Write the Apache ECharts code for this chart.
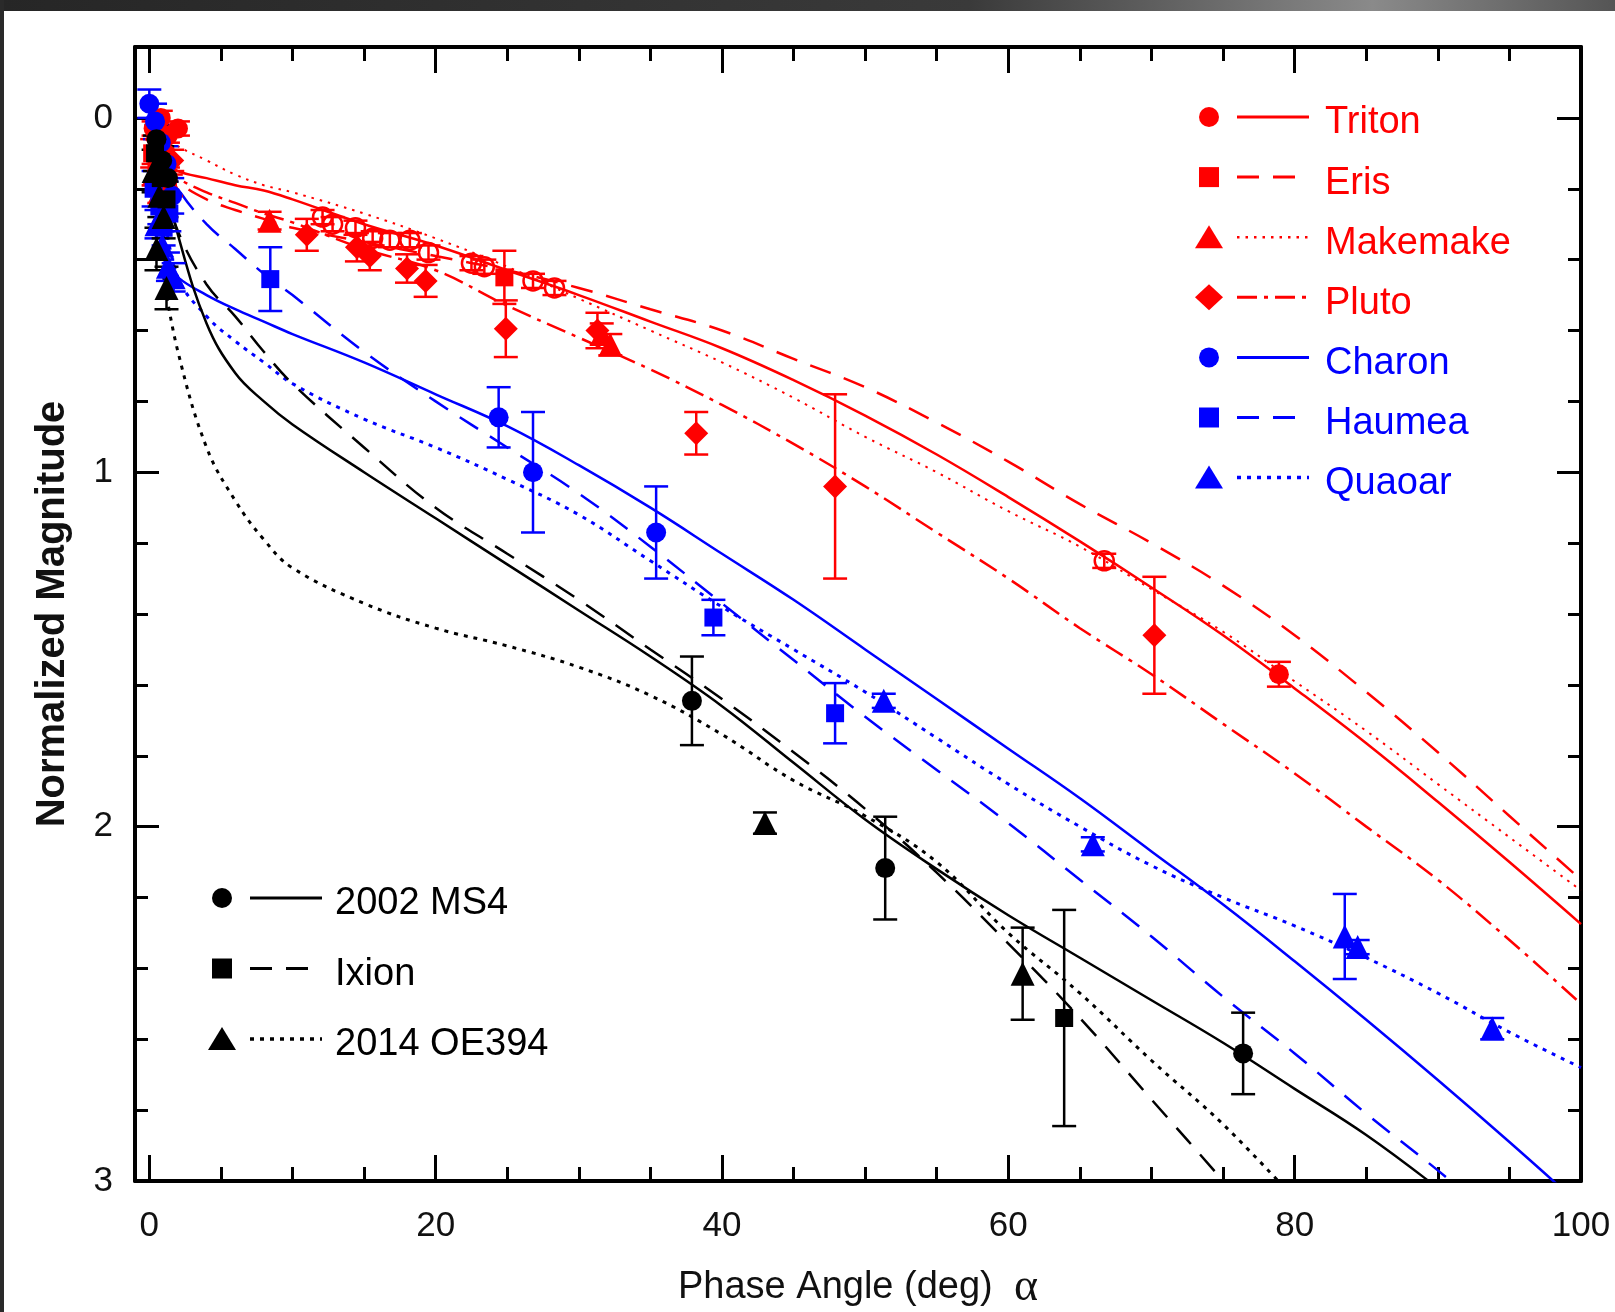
<!DOCTYPE html>
<html><head><meta charset="utf-8">
<script src="https://cdn.jsdelivr.net/npm/echarts@6/dist/echarts.min.js"></script>
<style>html,body{margin:0;padding:0;background:#fff}#c{width:1615px;height:1312px}</style>
</head><body><div id="c"></div>
<script>
// ---- model curve x grid (phase angle, deg) ----
const modelX = [1, 2, 4, 6, 8, 10, 15, 20, 25, 30, 35, 40, 45, 50, 55, 60, 65, 70, 75, 80, 85, 90, 95, 100];
// ---- model curves (normalized magnitude) ----
const tritonModel   = [0.12, 0.15, 0.17, 0.19, 0.205, 0.23, 0.30, 0.36, 0.43, 0.50, 0.575, 0.65, 0.74, 0.84, 0.95, 1.07, 1.195, 1.325, 1.46, 1.61, 1.765, 1.93, 2.10, 2.275];
const erisModel     = [0.13, 0.18, 0.23, 0.26, 0.285, 0.31, 0.35, 0.39, 0.43, 0.48, 0.54, 0.60, 0.68, 0.76, 0.86, 0.97, 1.09, 1.20, 1.32, 1.46, 1.62, 1.79, 1.97, 2.15];
const makemakeModel = [0.05, 0.08, 0.12, 0.16, 0.19, 0.21, 0.27, 0.34, 0.42, 0.51, 0.60, 0.69, 0.79, 0.90, 1.00, 1.11, 1.21, 1.33, 1.45, 1.59, 1.73, 1.88, 2.03, 2.18];
const plutoModel    = [0.13, 0.17, 0.21, 0.24, 0.27, 0.295, 0.37, 0.43, 0.53, 0.62, 0.71, 0.81, 0.92, 1.04, 1.17, 1.30, 1.44, 1.57, 1.71, 1.85, 2.00, 2.15, 2.32, 2.50];
const charonModel   = [0.40, 0.45, 0.50, 0.54, 0.575, 0.61, 0.69, 0.78, 0.87, 0.98, 1.10, 1.23, 1.36, 1.50, 1.64, 1.78, 1.92, 2.07, 2.22, 2.38, 2.545, 2.715, 2.89, 3.07];
const haumeaModel   = [0.12, 0.20, 0.30, 0.37, 0.44, 0.50, 0.66, 0.80, 0.93, 1.06, 1.21, 1.37, 1.53, 1.69, 1.84, 1.99, 2.15, 2.31, 2.48, 2.64, 2.81, 2.97, 3.14, null];
const quaoarModel   = [0.25, 0.45, 0.56, 0.63, 0.69, 0.75, 0.85, 0.93, 1.02, 1.12, 1.25, 1.38, 1.50, 1.62, 1.75, 1.88, 2.00, 2.11, 2.20, 2.28, 2.37, 2.47, 2.58, 2.68];
const ms4Model      = [0.15, 0.33, 0.58, 0.72, 0.80, 0.865, 1.00, 1.13, 1.26, 1.39, 1.52, 1.66, 1.82, 1.98, 2.12, 2.25, 2.37, 2.49, 2.61, 2.74, 2.87, 3.02, 3.18, null];
const ixionModel    = [0.18, 0.32, 0.47, 0.56, 0.66, 0.75, 0.93, 1.10, 1.23, 1.36, 1.50, 1.64, 1.79, 1.95, 2.13, 2.33, 2.54, 2.77, 3.00, 3.24, null, null, null, null];
const oe394Model    = [0.45, 0.66, 0.93, 1.08, 1.19, 1.27, 1.37, 1.44, 1.49, 1.55, 1.63, 1.74, 1.87, 1.97, 2.10, 2.30, 2.47, 2.66, 2.84, 3.05, null, null, null, null];

// ---- observations: [phase angle, magnitude, error] ----
const tritonObs   = [[0.3,0.03,0.02],[0.8,0.0,0.02],[1.3,0.05,0.02],[2.0,0.03,0.02],[78.9,1.57,0.035]];
const tritonOpen  = [[12.1,0.28,0.02],[12.8,0.30,0.02],[14.4,0.31,0.02],[15.6,0.34,0.02],[16.8,0.345,0.02],[18.2,0.345,0.02],[19.5,0.38,0.02],[22.5,0.41,0.02],[23.4,0.42,0.02],[26.8,0.46,0.02],[28.3,0.48,0.02],[66.7,1.25,0.02]];
const erisObs     = [[0.2,0.10,0.04],[0.5,0.14,0.04],[0.9,0.12,0.04],[1.3,0.18,0.04],[24.8,0.45,0.075]];
const makemakeObs = [[0.3,0.16,0.03],[0.7,0.21,0.03],[1.1,0.14,0.03],[1.5,0.19,0.03],[8.4,0.29,0.025],[31.6,0.61,0.03],[32.2,0.64,0.03]];
const plutoObs    = [[0.5,0.06,0.03],[1.0,0.09,0.03],[1.6,0.12,0.03],[11.0,0.33,0.045],[14.5,0.365,0.04],[15.4,0.39,0.04],[18.0,0.425,0.04],[19.3,0.46,0.045],[24.9,0.595,0.08],[31.3,0.60,0.05],[38.2,0.89,0.06],[47.9,1.04,0.26],[70.2,1.46,0.165]];
const charonObs   = [[0.0,-0.04,0.04],[0.4,0.01,0.05],[0.8,0.07,0.05],[1.2,0.13,0.05],[1.6,0.22,0.05],[24.4,0.845,0.085],[26.8,1.0,0.17],[35.4,1.17,0.13]];
const haumeaObs   = [[0.3,0.20,0.05],[0.7,0.25,0.05],[1.0,0.31,0.05],[1.4,0.27,0.05],[8.45,0.455,0.09],[39.4,1.41,0.05],[47.9,1.68,0.085]];
const quaoarObs   = [[0.5,0.30,0.04],[0.9,0.36,0.04],[1.3,0.42,0.04],[1.7,0.45,0.04],[51.3,1.645,0.02],[65.9,2.05,0.02],[83.5,2.31,0.12],[84.4,2.34,0.02],[93.8,2.57,0.03]];
const ms4Obs      = [[0.5,0.06,0.04],[0.9,0.12,0.04],[1.3,0.17,0.04],[37.9,1.645,0.125],[51.4,2.117,0.145],[76.4,2.64,0.115]];
const ixionObs    = [[0.4,0.10,0.05],[0.8,0.17,0.05],[1.2,0.23,0.05],[63.9,2.54,0.305]];
const oe394Obs    = [[0.3,0.15,0.06],[0.7,0.22,0.06],[1.0,0.28,0.06],[0.5,0.37,0.06],[1.2,0.48,0.06],[43.0,1.99,0.03],[61.0,2.415,0.13]];

// ---- ticks ----
const xMajorTicks = [0, 20, 40, 60, 80, 100];
const xMinorTicks = [5, 10, 15, 25, 30, 35, 45, 50, 55, 65, 70, 75, 85, 90, 95];
const yMajorTicks = [0, 1, 2, 3];
const yMinorTicks = [0.2, 0.4, 0.6, 0.8, 1.2, 1.4, 1.6, 1.8, 2.2, 2.4, 2.6, 2.8];

const RED = '#ff0000', BLUE = '#0000ff', BLACK = '#000000';
const DASH = [22, 14], DOT_FINE = [2.5, 6], DOT = [4, 6], DASHDOT = [20, 7, 4, 7];

const objects = [
  {name:'Triton',   color:RED,   symbol:'circle',   dash:'solid', model:tritonModel,   obs:tritonObs,   lw:2.5},
  {name:'Eris',     color:RED,   symbol:'rect',     dash:DASH,    model:erisModel,     obs:erisObs,     lw:2.5},
  {name:'Makemake', color:RED,   symbol:'triangle', dash:DOT_FINE,model:makemakeModel, obs:makemakeObs, lw:2},
  {name:'Pluto',    color:RED,   symbol:'diamond',  dash:DASHDOT, model:plutoModel,    obs:plutoObs,    lw:2.5},
  {name:'Charon',   color:BLUE,  symbol:'circle',   dash:'solid', model:charonModel,   obs:charonObs,   lw:2.5},
  {name:'Haumea',   color:BLUE,  symbol:'rect',     dash:DASH,    model:haumeaModel,   obs:haumeaObs,   lw:2.5},
  {name:'Quaoar',   color:BLUE,  symbol:'triangle', dash:DOT,     model:quaoarModel,   obs:quaoarObs,   lw:3},
  {name:'2002 MS4', color:BLACK, symbol:'circle',   dash:'solid', model:ms4Model,      obs:ms4Obs,      lw:2.5},
  {name:'Ixion',    color:BLACK, symbol:'rect',     dash:DASH,    model:ixionModel,    obs:ixionObs,    lw:2.5},
  {name:'2014 OE394',color:BLACK,symbol:'triangle', dash:DOT,     model:oe394Model,    obs:oe394Obs,    lw:3}
];
const symSize = {circle:20, rect:18, triangle:24, diamond:24};

function errRender(color){
  return function(params, api){
    const x = api.value(0), y = api.value(1), e = api.value(2);
    const a = api.coord([x, y - e]), b = api.coord([x, y + e]);
    const w = 12, st = {stroke: color, lineWidth: 2.5};
    return {type:'group', children:[
      {type:'line', shape:{x1:a[0], y1:a[1], x2:b[0], y2:b[1]}, style:st},
      {type:'line', shape:{x1:a[0]-w, y1:a[1], x2:a[0]+w, y2:a[1]}, style:st},
      {type:'line', shape:{x1:b[0]-w, y1:b[1], x2:b[0]+w, y2:b[1]}, style:st}
    ]};
  };
}

const series = [];
objects.forEach(o => {
  series.push({type:'line', name:o.name, data: modelX.map((x,i)=>[x, o.model[i]]),
    showSymbol:false, smooth:0.4, z:2, silent:true,
    lineStyle:{color:o.color, width:o.lw, type:o.dash}});
});
objects.forEach(o => {
  series.push({type:'custom', name:o.name+' err', data:o.obs, encode:{x:0,y:1}, renderItem:errRender(o.color), z:3, silent:true});
  series.push({type:'scatter', name:o.name+' obs', data:o.obs, encode:{x:0,y:1}, symbol:o.symbol,
    symbolSize:symSize[o.symbol], itemStyle:{color:o.color, opacity:1}, z:4, silent:true});
});
series.push({type:'custom', name:'Triton open err', data:tritonOpen, encode:{x:0,y:1}, renderItem:errRender(RED), z:3, silent:true});
series.push({type:'scatter', name:'Triton open', data:tritonOpen, encode:{x:0,y:1}, symbol:'circle', symbolSize:19,
  itemStyle:{color:'rgba(255,255,255,0)', borderColor:RED, borderWidth:2.5, opacity:1}, z:4, silent:true});

// ---- legend drawn with graphic elements ----
const FONT = 'Liberation Sans, Arial, Helvetica, sans-serif';
function marker(sym, cx, cy, color){
  if (sym === 'circle') return {type:'circle', shape:{cx:cx, cy:cy, r:10}, style:{fill:color}};
  if (sym === 'rect') return {type:'rect', shape:{x:cx-10, y:cy-10, width:20, height:20}, style:{fill:color}};
  if (sym === 'triangle') return {type:'polygon', shape:{points:[[cx,cy-12],[cx+14,cy+11],[cx-14,cy+11]]}, style:{fill:color}};
  return {type:'polygon', shape:{points:[[cx,cy-13],[cx+14,cy],[cx,cy+13],[cx-14,cy]]}, style:{fill:color}};
}
const graphics = [
  {type:'rect', shape:{x:0, y:0, width:1615, height:11}, style:{fill:{type:'linear', x:0, y:0, x2:1, y2:0,
    colorStops:[{offset:0,color:'#262626'},{offset:0.6,color:'#3a3a3a'},{offset:0.85,color:'#8a8a8a'},{offset:1,color:'#555'}]}}, z:0},
  {type:'rect', shape:{x:0, y:0, width:4, height:1312}, style:{fill:'#2a2a2a'}, z:0}
];
function addLegend(list, mx, l1, l2, tx, y0, dy){
  list.forEach((o, i) => {
    const cy = y0 + i*dy;
    graphics.push(Object.assign(marker(o.symbol, mx, cy, o.color), {z:10}));
    graphics.push({type:'line', shape:{x1:l1, y1:cy, x2:l2, y2:cy}, z:10,
      style:{stroke:o.color, lineWidth:o.lw + 0.5, lineDash: o.dash === 'solid' ? null : o.dash}});
    graphics.push({type:'text', x:tx, y:cy + 6, z:10,
      style:{text:o.name, fill:o.color, fontSize:38, fontFamily:FONT, align:'left', verticalAlign:'middle'}});
  });
}
addLegend(objects.slice(0,7), 1209, 1237, 1309, 1325, 117, 60.1);
addLegend(objects.slice(7), 222, 250, 322, 335, 898, 70.5);

function xAxisCfg(pos, ticks, len, labels, line){
  return {type:'value', min:-1, max:100, position:pos,
    axisLine:{show:line, onZero:false, lineStyle:{color:'#000', width:4}},
    axisTick:{show:true, inside:true, length:len, customValues:ticks, lineStyle:{color:'#000', width:3}},
    axisLabel:{show:labels, customValues:ticks, margin:28, fontSize:35, color:'#111', fontFamily:FONT},
    splitLine:{show:false}};
}
function yAxisCfg(pos, ticks, len, labels, line){
  return {type:'value', min:-0.2, max:3, inverse:true, position:pos,
    axisLine:{show:line, onZero:false, lineStyle:{color:'#000', width:4}},
    axisTick:{show:true, inside:true, length:len, customValues:ticks, lineStyle:{color:'#000', width:3}},
    axisLabel:{show:labels, customValues:ticks, margin:22, fontSize:35, color:'#111', fontFamily:FONT},
    splitLine:{show:false}};
}
const xMain = xAxisCfg('bottom', xMajorTicks, 26, true, true);
xMain.name = '{t|Phase Angle (deg)  }{a|α}';
xMain.nameLocation = 'middle';
xMain.nameGap = 84;
xMain.nameTextStyle = {rich:{t:{fontSize:38, fontFamily:FONT, color:'#111'}, a:{fontSize:46, fontFamily:'Liberation Serif, DejaVu Serif, serif', color:'#111'}}};
const yMain = yAxisCfg('left', yMajorTicks, 24, true, true);
yMain.name = 'Normalized Magnitude';
yMain.nameLocation = 'middle';
yMain.nameGap = 62;
yMain.nameRotate = 90;
yMain.nameTextStyle = {fontSize:40, fontWeight:'bold', fontFamily:FONT, color:'#111'};

const chart = echarts.init(document.getElementById('c'), null, {renderer:'canvas'});
chart.setOption({
  animation:false,
  backgroundColor:'#ffffff',
  grid:{left:135, right:34, top:47, bottom:131, containLabel:false, outerBoundsMode:'none'},
  xAxis:[xMain, xAxisCfg('top', xMajorTicks, 26, false, true),
         xAxisCfg('bottom', xMinorTicks, 14, false, false), xAxisCfg('top', xMinorTicks, 14, false, false)],
  yAxis:[yMain, yAxisCfg('right', yMajorTicks, 24, false, true),
         yAxisCfg('left', yMinorTicks, 13, false, false), yAxisCfg('right', yMinorTicks, 13, false, false)],
  series:series,
  graphic:graphics
});
</script></body></html>
